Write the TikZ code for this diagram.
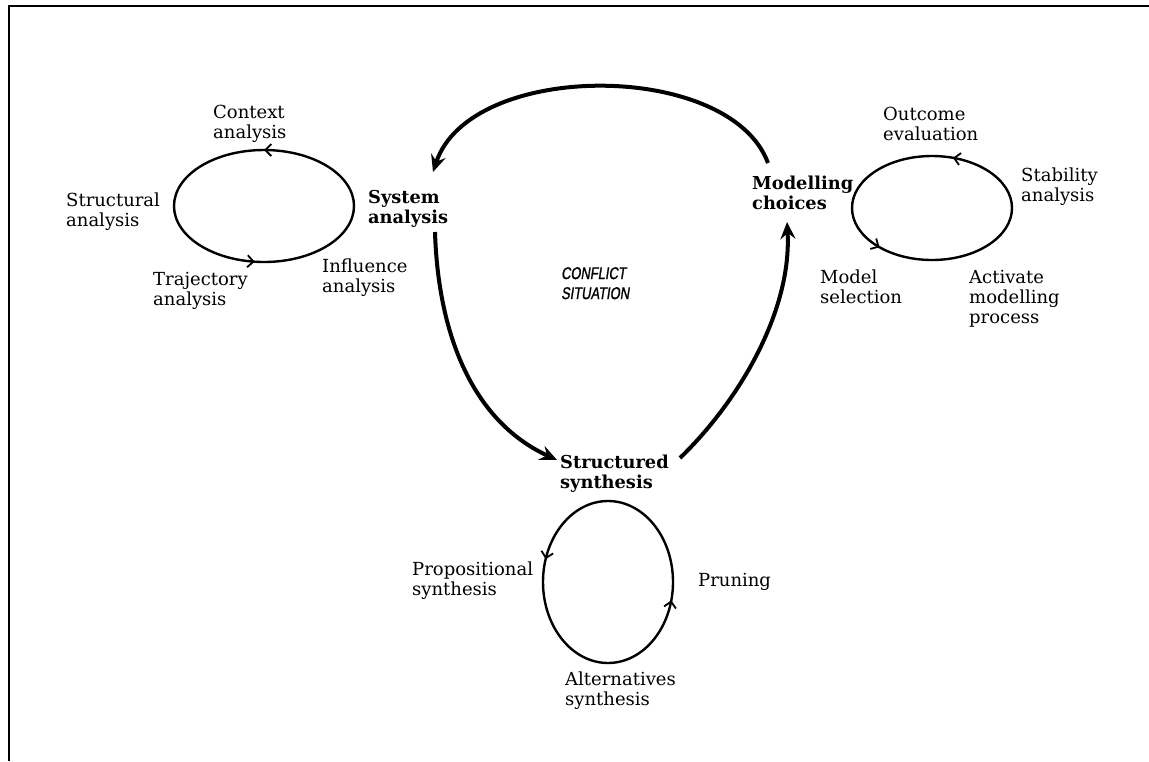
\documentclass[tikz,border=0pt]{standalone}
\usepackage{fontspec}
\setmainfont{DejaVu Serif}
\newfontfamily\handfont[FakeSlant=0.15,FakeStretch=0.76,FakeBold=1.2]{Liberation Sans}
\usetikzlibrary{arrows.meta,decorations.markings}
\tikzset{
  lbl/.style={anchor=north west, inner sep=0pt, align=left, font=\fontsize{18}{20}\selectfont},
  blbl/.style={lbl, font=\fontsize{17.8}{20}\selectfont\bfseries},
  hand/.style={anchor=north west, inner sep=0pt, align=left, font=\fontsize{17}{20}\handfont},
  loopline/.style={line width=2.4pt},
  mainarrow/.style={line width=4pt, -{Stealth[length=17pt,width=15pt,inset=6pt]}},
  barbs/.style 2 args={postaction={decorate}, decoration={markings,
     mark=at position #1 with {\arrow{Straight Barb[length=6pt,width=12pt,line width=1.8pt]}},
     mark=at position #2 with {\arrow{Straight Barb[length=6pt,width=12pt,line width=1.8pt]}}}},
  frame/.style={line width=2.2pt}
}
\begin{document}
\begin{tikzpicture}[x=1pt,y=-1pt]
\useasboundingbox (0,0) rectangle (1149,761);
% frame
\draw[frame] (9,761) -- (9,6) -- (1149,6);

% left loop labels
\node[lbl] (ctx) at (213,105) {Context\\analysis};
\node[lbl] (str) at (66,193) {Structural\\analysis};
\node[lbl] (tra) at (153,272) {Trajectory\\analysis};
\node[lbl] (inf) at (322,259) {Influence\\analysis};
\node[blbl] (sa) at (368,190) {System\\analysis};

% centre
\node[hand] (cs) at (561,267) {CONFLICT\\SITUATION};

% bottom
\node[blbl] (ss) at (560,455) {Structured\\synthesis};
\node[lbl] (pro) at (412,562) {Propositional\\synthesis};
\node[lbl] (pru) at (698,573) {Pruning};
\node[lbl] (alt) at (565,672) {Alternatives\\synthesis};

% right
\node[blbl] (mc) at (752,176) {Modelling\\choices};
\node[lbl] (out) at (883,107) {Outcome\\evaluation};
\node[lbl] (sta) at (1021,168) {Stability\\analysis};
\node[lbl] (mod) at (820,270) {Model\\selection};
\node[lbl] (act) at (969,270) {Activate\\modelling\\process};

% loops
\draw[loopline, barbs={0.25}{0.73}] (354,206) arc[start angle=0, end angle=360, x radius=90pt, y radius=56pt];
\draw[loopline, barbs={0.2}{0.62}] (1012,208) arc[start angle=0, end angle=360, x radius=80pt, y radius=52pt];
\draw[loopline, barbs={0.45}{0.96}] (673,582) arc[start angle=0, end angle=360, x radius=65pt, y radius=81pt];

% main cycle
\draw[mainarrow] ([shift={(16,-13)}]mc.north west) .. controls (730,60) and (470,60) .. ([shift={(65,-18)}]sa.north west);
\draw[mainarrow] ([shift={(67,42)}]sa.north west) .. controls (438,330) and (470,420) .. ([shift={(-3,5)}]ss.north west);
\draw[mainarrow] ([shift={(120,3)}]ss.north west) .. controls (740,400) and (792,310) .. ([shift={(35,46)}]mc.north west);
\end{tikzpicture}
\end{document}
